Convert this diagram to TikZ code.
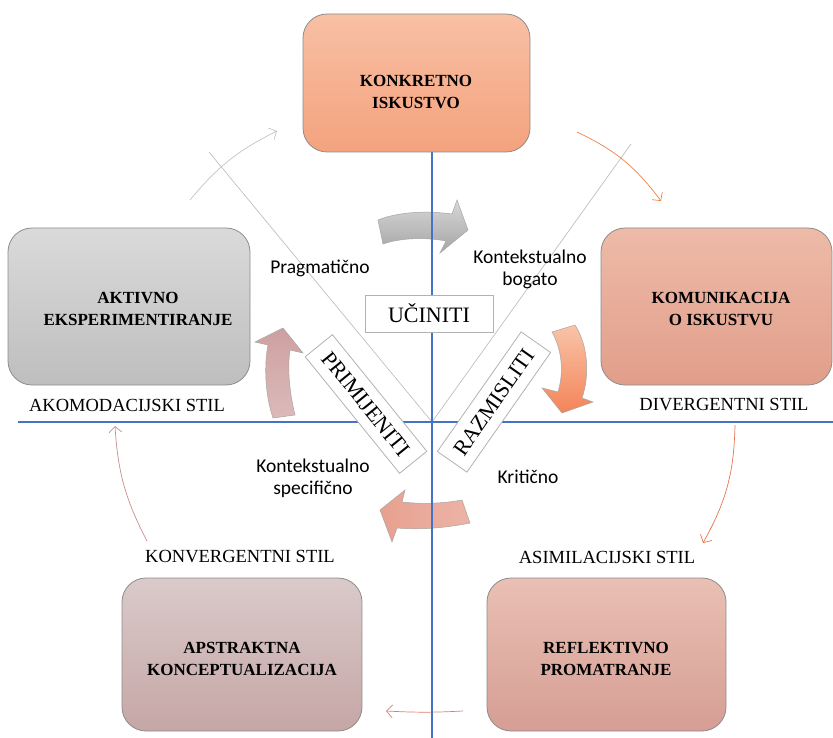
\documentclass[tikz,border=0pt]{standalone}
\usepackage{fontspec}
\setmainfont{Liberation Serif}
\newfontfamily\calib{Carlito}
\usetikzlibrary{arrows.meta}
\definecolor{axisblue}{RGB}{68,114,196}
\definecolor{keTop}{RGB}{248,192,164}
\definecolor{keBot}{RGB}{244,162,126}
\definecolor{aeTop}{RGB}{218,218,218}
\definecolor{aeBot}{RGB}{190,190,190}
\definecolor{koTop}{RGB}{237,187,168}
\definecolor{koBot}{RGB}{225,158,138}
\definecolor{apTop}{RGB}{218,202,202}
\definecolor{apBot}{RGB}{198,166,166}
\definecolor{reTop}{RGB}{234,192,180}
\definecolor{reBot}{RGB}{214,158,148}
\definecolor{arrGrayTop}{RGB}{215,215,215}
\definecolor{arrGrayBot}{RGB}{165,165,165}
\definecolor{arrOrTop}{RGB}{249,196,168}
\definecolor{arrOrBot}{RGB}{243,132,88}
\definecolor{arrMaTop}{RGB}{206,160,160}
\definecolor{arrMaBot}{RGB}{220,186,186}
\definecolor{arrSaL}{RGB}{232,160,144}
\definecolor{arrSaR}{RGB}{236,180,166}
\definecolor{thinGray}{RGB}{195,195,195}
\definecolor{thinOrange}{RGB}{240,128,64}
\definecolor{thinRed}{RGB}{232,116,80}
\definecolor{thinSalmon}{RGB}{216,128,112}
\definecolor{thinPink}{RGB}{200,140,140}
\begin{document}
\begin{tikzpicture}[x=1pt,y=-1pt,
  box/.style={rounded corners=24pt, draw=black!45, line width=0.8pt, inner sep=0pt},
  boxtext/.style={font=\fontsize{17}{21.5}\selectfont\bfseries, align=center, inner sep=0pt},
  stil/.style={font=\fontsize{18.5}{22}\selectfont, inner sep=0pt},
  sans/.style={font=\calib\fontsize{19.5}{22}\selectfont, align=center, inner sep=0pt},
  act/.style={draw=black!30, fill=white, line width=0.8pt, font=\fontsize{22}{26}\selectfont, inner sep=0pt},
  thinarrow/.style={line width=0.7pt, -{Straight Barb[length=6pt,width=13pt]}},
  blockarrow/.style={draw=black!35, line width=0.5pt},
  axis/.style={draw=axisblue, line width=1.6pt},
  guide/.style={draw=black!25, line width=0.7pt}]
\useasboundingbox (0,0) rectangle (833,738);

% guide lines
\coordinate (ctr) at (432,422);
\coordinate (gl1) at (209,152);
\coordinate (gl2) at (631,144);
\path[guide] (gl1) -- (ctr) -- (gl2);

% thin cycle arrows
\coordinate (a1s) at (190,200); \coordinate (a1e) at (277,131);
\coordinate (a2s) at (577,132); \coordinate (a2e) at (661,201);
\coordinate (a3s) at (735,425); \coordinate (a3e) at (703,543);
\coordinate (a4s) at (463,711); \coordinate (a4e) at (386,711);
\coordinate (a5s) at (147,541); \coordinate (a5e) at (115,426);
\draw[thinarrow, thinGray] (a1s) to[bend left=12] (a1e);
\draw[thinarrow, thinOrange] (a2s) to[bend left=14] (a2e);
\draw[thinarrow, thinRed] (a3s) to[bend left=14] (a3e);
\draw[thinarrow, thinSalmon] (a4s) to[bend left=3] (a4e);
\draw[thinarrow, thinPink] (a5s) to[bend left=12] (a5e);

% block arrows
\path[blockarrow, top color=arrGrayTop, bottom color=arrGrayBot]
  (378,220) .. controls (400,211) and (430,211) .. (452,214) -- (457,200) -- (468,230)
  -- (440,253) -- (446,241) .. controls (425,237) and (400,238) .. (383,244) -- cycle;
\path[blockarrow, top color=arrOrTop, bottom color=arrOrBot]
  (552,332) -- (575,325) .. controls (588,345) and (590,375) .. (582,398) -- (593,402)
  -- (562,413) -- (542,388) -- (558,392) .. controls (564,372) and (562,350) .. (552,332) -- cycle;
\path[blockarrow, top color=arrMaTop, bottom color=arrMaBot]
  (273,418) .. controls (265,395) and (264,365) .. (268,345) -- (255,342) -- (283,328)
  -- (303,353) -- (290,350) .. controls (287,370) and (290,395) .. (295,415) -- cycle;
\path[blockarrow, left color=arrSaL, right color=arrSaR]
  (462,500) .. controls (440,504) and (420,504) .. (402,502) -- (405,490) -- (380,510)
  -- (392,542) -- (397,528) .. controls (420,530) and (445,528) .. (470,523) -- cycle;

% axes
\coordinate (vtop) at (432,152); \coordinate (vbot) at (432,738);
\coordinate (hl) at (18,422); \coordinate (hr) at (833,422);
\path[axis] (vtop) -- (vbot);
\path[axis] (hl) -- (hr);

% main boxes
\node[box, top color=keTop, bottom color=keBot, minimum width=227pt, minimum height=138pt] (ke) at (416.5,83) {};
\node[box, top color=aeTop, bottom color=aeBot, minimum width=242pt, minimum height=157pt] (ae) at (129,306.5) {};
\node[box, top color=koTop, bottom color=koBot, minimum width=231pt, minimum height=157pt] (ko) at (716.5,306.5) {};
\node[box, top color=apTop, bottom color=apBot, minimum width=240pt, minimum height=153pt] (ap) at (242,654.5) {};
\node[box, top color=reTop, bottom color=reBot, minimum width=239pt, minimum height=153pt] (re) at (606.5,654.5) {};

\node[boxtext] (ket) at (416,92) {KONKRETNO\\ISKUSTVO};
\node[boxtext] (aet) at (138,309) {AKTIVNO\\EKSPERIMENTIRANJE};
\node[boxtext] (kot) at (721,309) {KOMUNIKACIJA\\O ISKUSTVU};
\node[boxtext] (apt) at (242,659) {APSTRAKTNA\\KONCEPTUALIZACIJA};
\node[boxtext] (ret) at (606,659) {REFLEKTIVNO\\PROMATRANJE};

% style labels
\node[stil] (s1) at (127,405) {AKOMODACIJSKI STIL};
\node[stil] (s2) at (724,405) {DIVERGENTNI STIL};
\node[stil] (s3) at (240,557) {KONVERGENTNI STIL};
\node[stil] (s4) at (607,557) {ASIMILACIJSKI STIL};

% action boxes
\node[act, minimum width=128pt, minimum height=37pt] (uc) at (429,313.5) {UČINITI};
\node[act, minimum width=150pt, minimum height=35pt, rotate=-51] (pr) at (366,404) {PRIMIJENITI};
\node[act, minimum width=146pt, minimum height=36pt, rotate=55] (ra) at (494,402) {RAZMISLITI};

% sans labels
\node[sans] (pg) at (320,268) {Pragmatično};
\node[sans] (kb) at (530,269) {Kontekstualno\\bogato};
\node[sans] (ks) at (313,478) {Kontekstualno\\specifično};
\node[sans] (kr) at (528,477) {Kritično};
\end{tikzpicture}
\end{document}
